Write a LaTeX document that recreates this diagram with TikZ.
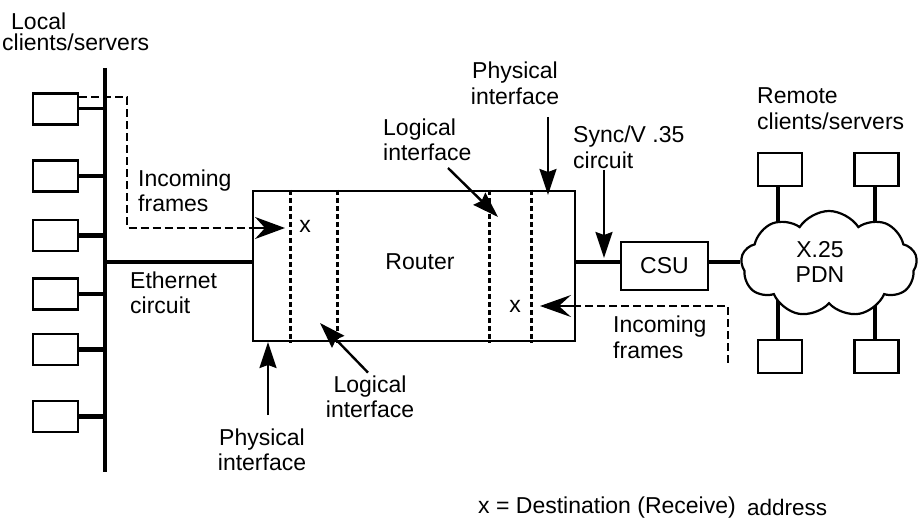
\documentclass[tikz,border=0pt]{standalone}
\usepackage{fontspec}
\setmainfont{Liberation Sans}
\usetikzlibrary{arrows.meta,shapes.symbols}
\begin{document}
\begin{tikzpicture}[x=1pt,y=-1pt,
  txt/.style={font=\fontsize{23}{25.5}\selectfont, inner sep=0pt, align=left},
  host/.style={draw, line width=2.4pt, fill=white, minimum width=45pt, minimum height=31pt, inner sep=0pt},
  heavy/.style={line width=4.6pt},
  thinl/.style={line width=2.4pt},
  dotl/.style={line width=2.8pt, dash pattern=on 5pt off 3pt},
  frame/.style={line width=2.2pt, dash pattern=on 8pt off 4pt},
  pointer/.style={line width=2.4pt, -{Stealth[length=26pt,width=17pt,inset=3pt]}},
  intip/.style={-{Stealth[length=30pt,width=22pt,inset=10pt]}},
]
\useasboundingbox (0,0) rectangle (918,518);

% local hosts and bus
\coordinate (bt) at (105,68);
\coordinate (bb) at (105,472);
\draw[heavy] (bt) -- (bb);
\node[host] (l1) at (55.5,109) {};
\node[host] (l2) at (55.5,176) {};
\node[host] (l3) at (55.5,235.5) {};
\node[host] (l4) at (55.5,294) {};
\node[host] (l5) at (55.5,349.5) {};
\node[host] (l6) at (55.5,416.5) {};
\draw[line width=3pt] (l1.east) -- (l1.east -| bt);
\foreach \n in {l2,l3,l4,l5,l6} \draw[heavy] (\n.east) -- (\n.east -| bt);

% router
\node[draw, line width=2.4pt, minimum width=322pt, minimum height=150pt, inner sep=0pt] (router) at (414,266) {};
\foreach \dx in {39,86,238,280}
  \draw[dotl] ([xshift=\dx pt]router.north west) -- ([xshift=\dx pt]router.south west);
\node[txt] (rlabel) at (420,262) {Router};
\node[txt] (x1) at (305,226) {x};
\node[txt] (x2) at (515,306) {x};

% ethernet
\coordinate (eth) at (105,262);
\draw[heavy] (eth) -- (eth -| router.west);
\node[txt, anchor=west] (ethl) at (130,293) {Ethernet\\circuit};

% incoming frames (left)
\coordinate (in1) at (285,228);
\draw[frame] ([yshift=-5pt]l1.north east) -- ++(48,0) |- ([xshift=-20pt]in1);
\draw[line width=2.2pt, intip] ([xshift=-32pt]in1) -- (in1);
\node[txt, anchor=west] (infl) at (138,191) {Incoming\\frames};

% CSU, cloud and remote hosts
\node[draw, thinl, minimum width=87pt, minimum height=48pt, inner sep=0pt, font=\fontsize{23}{25.5}\selectfont] (csu) at (664.5,266) {CSU};
\node[host, minimum width=44pt, minimum height=33pt] (r1) at (780,169.5) {};
\node[host, minimum width=44pt, minimum height=33pt] (r2) at (876.5,169.5) {};
\node[host, minimum width=44pt, minimum height=33pt] (r3) at (780,356.5) {};
\node[host, minimum width=44pt, minimum height=33pt] (r4) at (876.5,356.5) {};
\draw[heavy] ([xshift=-2pt]r1.south) -- ([xshift=-2pt]r3.north);
\draw[heavy] ([xshift=-1.5pt]r2.south) -- ([xshift=-1.5pt]r4.north);
\node[cloud, draw, line width=2.2pt, fill=white, cloud puffs=9, cloud puff arc=115, aspect=1.65,
      minimum width=176pt, minimum height=106pt, inner sep=0pt] (pdn) at (829,264) {};
\node[txt, align=center] (pdnl) at (820,262) {X.25\\PDN};
\draw[heavy] (router.east |- eth) -- (csu.west |- eth);
\draw[heavy] (csu.east |- eth) -- (pdn.west |- eth);
\node[txt, anchor=west] (reml) at (757,108.5) {Remote\\clients/servers};

% incoming frames (right)
\coordinate (fr2) at (728,363);
\coordinate (in2) at (540,306);
\draw[frame] (fr2) |- ([xshift=20pt]in2);
\draw[line width=2.2pt, -{Stealth[length=31pt,width=22pt,inset=12pt]}] ([xshift=33pt]in2) -- (in2);
\node[txt, anchor=west] (infr) at (613,337.5) {Incoming\\frames};

% labels with pointers
\node[txt] (local) at (2,32) [anchor=west] {\hspace*{9pt}Local\\[-4pt]clients/servers};

\node[txt, align=center] (physb) at (262,450) {Physical\\interface};
\coordinate (pbt) at (268,342);
\draw[pointer] (268,415) -- (pbt);

\node[txt, align=center] (logb) at (370,397) {Logical\\interface};
\coordinate (lbt) at (320,323);
\draw[pointer] ([xshift=-2pt,yshift=3pt]logb.north) -- (lbt);

\node[txt, anchor=west] (logt) at (383,140) {Logical\\interface};
\coordinate (ltt) at (498,217);
\draw[pointer] (448,168) -- (ltt);

\node[txt, align=center] (phyt) at (515,83.5) {Physical\\interface};
\coordinate (ptt) at (548,195);
\draw[pointer] (548,117) -- (ptt);

\node[txt, anchor=west] (sync) at (573,147.5) {Sync/V .35\\circuit};
\coordinate (stt) at (604,258);
\draw[pointer] (604,170) -- (stt);

% legend
\node[txt, anchor=base west] (leg) at (478,513) {x = Destination (Receive)};
\node[anchor=base west, inner sep=0pt, font=\fontsize{22.5}{25}\selectfont] (legad) at (747,515) {address};
\end{tikzpicture}
\end{document}
